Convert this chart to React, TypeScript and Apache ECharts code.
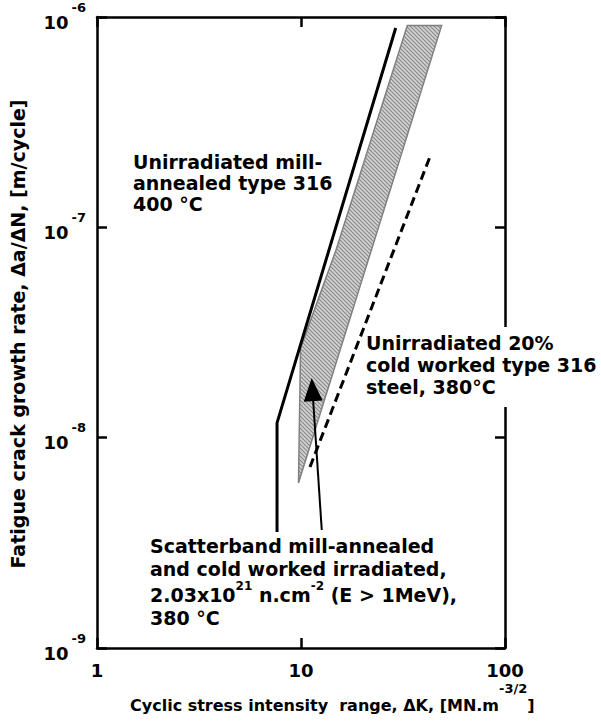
import { useEffect, useRef } from 'react';
import * as echarts from 'echarts';

const FONT = '"DejaVu Sans", Verdana, sans-serif';

// Axis ranges and tick labels
const kRange = [1, 100];
const rateRange = [1e-9, 1e-6];
const kTicks = [1, 10, 100];
const rateDecades = [-9, -8, -7, -6];

// Unirradiated mill-annealed type 316, 400 °C
const annealedK = [7.63, 7.63, 29.12];
const annealedRate = [3.56e-9, 1.175e-8, 8.87e-7];

// Unirradiated 20 % cold worked type 316, 380 °C
const coldWorkedK = [11.07, 42.9];
const coldWorkedRate = [7.26e-9, 2.17e-7];

// Scatterband of irradiated material (outline, clockwise from top-left)
const bandK = [33.2, 48.9, 9.72, 9.95, 14.85];
const bandRate = [9.1e-7, 9.1e-7, 6.09e-9, 2.67e-8, 7.8e-8];

// Pointer from the scatterband caption into the band (tail, tip)
const pointerK = [12.64, 11.28];
const pointerRate = [3.64e-9, 1.92e-8];

function hatchPattern(): HTMLCanvasElement {
  const size = 4;
  const c = document.createElement('canvas');
  c.width = size;
  c.height = size;
  const g = c.getContext('2d')!;
  g.fillStyle = '#d2d2d2';
  g.fillRect(0, 0, size, size);
  g.strokeStyle = '#888888';
  g.lineWidth = 1.1;
  g.beginPath();
  g.moveTo(-1, -1);
  g.lineTo(size + 1, size + 1);
  g.moveTo(-1, size - 1);
  g.lineTo(1, size + 1);
  g.moveTo(size - 1, -1);
  g.lineTo(size + 1, 1);
  g.stroke();
  return c;
}

const frameLine = { show: true, lineStyle: { color: '#000', width: 2.5 } };
const innerTick = { show: true, inside: true, length: 10, lineStyle: { color: '#000', width: 2.5 } };

// raised exponent: bottom padding lifts the token by half that amount
const sup = (size: number, lift: number, gap = 0) => ({
  fontFamily: FONT,
  fontWeight: 'bold',
  fontSize: size,
  color: '#000',
  fill: '#000',
  lineHeight: 12,
  verticalAlign: 'middle',
  padding: [0, 0, lift * 2, gap],
});

export default function App() {
  const ref = useRef<HTMLDivElement>(null);

  useEffect(() => {
    document.body.style.margin = '0';
    const chart = echarts.init(ref.current!, undefined, { renderer: 'svg' });
    const pattern = hatchPattern();

    const pairs = (xs: number[], ys: number[]) => xs.map((x, i) => [x, ys[i]]);

    const option: any = {
      animation: false,
      backgroundColor: '#fff',
      grid: { left: 97, top: 17, right: 96, bottom: 78, containLabel: false, outerBoundsMode: 'none' },
      xAxis: [
        {
          type: 'log',
          logBase: 10,
          position: 'bottom',
          min: kRange[0],
          max: kRange[1],
          axisLine: frameLine,
          axisTick: innerTick,
          minorTick: { show: false },
          splitLine: { show: false },
          axisLabel: {
            show: true,
            margin: 13,
            showMinLabel: true,
            showMaxLabel: true,
            hideOverlap: false,
            color: '#000',
            fontFamily: FONT,
            fontWeight: 'bold',
            fontSize: 18,
            formatter: (v: number) => {
              const hit = kTicks.find((t) => Math.abs(t - v) / t < 1e-6);
              return hit !== undefined ? String(hit) : '';
            },
          },
        },
        {
          type: 'log',
          logBase: 10,
          position: 'top',
          min: kRange[0],
          max: kRange[1],
          axisLine: frameLine,
          axisTick: innerTick,
          minorTick: { show: false },
          splitLine: { show: false },
          axisLabel: { show: false },
        },
      ],
      yAxis: [
        {
          type: 'log',
          logBase: 10,
          position: 'left',
          min: rateRange[0],
          max: rateRange[1],
          axisLine: frameLine,
          axisTick: innerTick,
          minorTick: { show: false },
          splitLine: { show: false },
          axisLabel: {
            show: true,
            margin: 11,
            showMinLabel: true,
            showMaxLabel: true,
            padding: [10, 0, 0, 0],
            formatter: (v: number) => {
              const e = Math.round(Math.log10(v));
              if (Math.abs(Math.log10(v) - e) > 1e-6 || !rateDecades.includes(e)) return '';
              return `{b|10}{s|${e}}`;
            },
            rich: {
              b: { fontFamily: FONT, fontWeight: 'bold', fontSize: 18, color: '#000', lineHeight: 20, verticalAlign: 'middle' },
              s: sup(13, 15, 3),
            },
          },
        },
        {
          type: 'log',
          logBase: 10,
          position: 'right',
          min: rateRange[0],
          max: rateRange[1],
          axisLine: frameLine,
          axisTick: innerTick,
          minorTick: { show: false },
          splitLine: { show: false },
          axisLabel: { show: false },
        },
      ],
      series: [
        {
          type: 'custom',
          name: 'Scatterband',
          coordinateSystem: 'cartesian2d',
          xAxisIndex: 0,
          yAxisIndex: 0,
          silent: true,
          z: 1,
          data: [[bandK[0], bandRate[0]]],
          renderItem: (_params: any, api: any) => {
            const points = pairs(bandK, bandRate).map((p) => api.coord(p));
            return {
              type: 'polygon',
              shape: { points },
              style: {
                fill: { image: pattern, repeat: 'repeat' },
                stroke: '#808080',
                lineWidth: 1.5,
              },
            };
          },
        },
        {
          type: 'line',
          name: 'Mill-annealed 316, 400 °C',
          xAxisIndex: 0,
          yAxisIndex: 0,
          z: 3,
          symbol: 'none',
          silent: true,
          data: pairs(annealedK, annealedRate),
          lineStyle: { color: '#000', width: 3, join: 'miter' },
        },
        {
          type: 'line',
          name: '20% cold worked 316, 380 °C',
          xAxisIndex: 0,
          yAxisIndex: 0,
          z: 3,
          symbol: 'none',
          silent: true,
          data: pairs(coldWorkedK, coldWorkedRate),
          lineStyle: { color: '#000', width: 3, type: [9, 5], cap: 'butt' },
        },
        {
          type: 'custom',
          name: 'Pointer',
          coordinateSystem: 'cartesian2d',
          xAxisIndex: 0,
          yAxisIndex: 0,
          silent: true,
          z: 4,
          data: [[pointerK[1], pointerRate[1]]],
          renderItem: (_params: any, api: any) => {
            const tail = api.coord([pointerK[0], pointerRate[0]]);
            const tip = api.coord([pointerK[1], pointerRate[1]]);
            const dx = tip[0] - tail[0];
            const dy = tip[1] - tail[1];
            const len = Math.hypot(dx, dy);
            const ux = dx / len;
            const uy = dy / len;
            const headLen = 23;
            const halfW = 9.5;
            const bx = tip[0] - ux * headLen;
            const by = tip[1] - uy * headLen;
            return {
              type: 'group',
              children: [
                {
                  type: 'line',
                  shape: { x1: tail[0], y1: tail[1], x2: bx, y2: by },
                  style: { stroke: '#000', lineWidth: 2 },
                },
                {
                  type: 'polygon',
                  shape: {
                    points: [
                      [tip[0], tip[1]],
                      [bx - uy * halfW, by + ux * halfW],
                      [bx + uy * halfW, by - ux * halfW],
                    ],
                  },
                  style: { fill: '#000' },
                },
              ],
            };
          },
        },
      ],
      graphic: [
        {
          type: 'text',
          x: 133,
          y: 151,
          z: 100,
          style: {
            text: 'Unirradiated mill-\nannealed type 316\n400 °C',
            fill: '#000',
            fontFamily: FONT,
            fontWeight: 'bold',
            fontSize: 19,
            lineHeight: 21,
            align: 'left',
            verticalAlign: 'top',
          },
        },
        {
          type: 'text',
          x: 366,
          y: 327,
          z: 100,
          style: {
            text: 'Unirradiated 20%\ncold worked type 316\nsteel, 380°C',
            fill: '#000',
            fontFamily: FONT,
            fontWeight: 'bold',
            fontSize: 19,
            lineHeight: 22,
            align: 'left',
            verticalAlign: 'top',
            backgroundColor: '#fff',
            padding: [5, 6, 9, 0],
          },
        },
        {
          type: 'text',
          x: 150,
          y: 534,
          z: 100,
          style: {
            text:
              'Scatterband mill-annealed\nand cold worked irradiated,\n{m|2.03x10}{s|21}{m| n.cm}{s|-2}{m| (E > 1MeV),}\n380 °C',
            fill: '#000',
            fontFamily: FONT,
            fontWeight: 'bold',
            fontSize: 19,
            lineHeight: 23,
            align: 'left',
            verticalAlign: 'top',
            rich: {
              m: {
                fontFamily: FONT,
                fontWeight: 'bold',
                fontSize: 19,
                fill: '#000',
                lineHeight: 26,
                verticalAlign: 'middle',
                padding: [3, 0, 0, 0],
              },
              s: { fontFamily: FONT, fontWeight: 'bold', fontSize: 12, fill: '#000', lineHeight: 12, verticalAlign: 'top' },
            },
          },
        },
        {
          type: 'text',
          x: 130,
          y: 705,
          z: 100,
          style: {
            text: '{m|Cyclic stress intensity  range, ΔK, [MN.m}{s|-3/2}{m|]}',
            fill: '#000',
            align: 'left',
            verticalAlign: 'middle',
            rich: {
              m: { fontFamily: FONT, fontWeight: 'bold', fontSize: 16, fill: '#000', lineHeight: 20, verticalAlign: 'middle' },
              s: sup(13, 17),
            },
          },
        },
        {
          type: 'text',
          x: 18,
          y: 334,
          z: 100,
          rotation: Math.PI / 2,
          style: {
            text: 'Fatigue crack growth rate, Δa/ΔN, [m/cycle]',
            fill: '#000',
            fontFamily: FONT,
            fontWeight: 'bold',
            fontSize: 19,
            align: 'center',
            verticalAlign: 'middle',
          },
        },
      ],
    };

    chart.setOption(option);
    return () => chart.dispose();
  }, []);

  return (
    <div
      ref={ref}
      style={{ position: 'fixed', left: 0, top: 0, width: 601, height: 726, background: '#fff' }}
    />
  );
}
